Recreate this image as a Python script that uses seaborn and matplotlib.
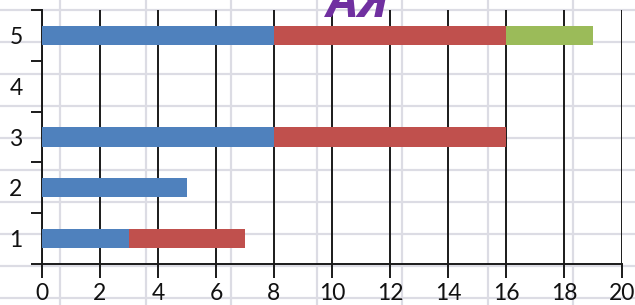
import matplotlib
matplotlib.use("Agg")
import matplotlib.pyplot as plt
import seaborn as sns
import pandas as pd
import numpy as np

# ---- data ----
categories = ["1", "2", "3", "4", "5"]
blue_vals = [3, 5, 8, 0, 8]
red_vals = [4, 0, 8, 0, 8]
green_vals = [0, 0, 0, 0, 3]
x_ticks = list(range(0, 21, 2))
title_text = "АЯ"

# ---- style ----
sns.set_theme(style="white")
plt.rcParams['font.family'] = ['Lato', 'DejaVu Sans']

BLUE = "#4F81BD"
RED = "#C0504D"
GREEN = "#9BBB59"

fig = plt.figure(figsize=(6.35, 3.05), dpi=100)

# background "graph paper"
bg = fig.add_axes([0, 0, 1, 1], zorder=0)
bg.set_xlim(0, 635)
bg.set_ylim(305, 0)
bg.set_xticks(np.arange(60, 640, 85.5))
bg.set_yticks(np.arange(10, 305, 32))
bg.grid(True, color="#dcdce4", lw=1.6)
bg.tick_params(length=0, labelbottom=False, labelleft=False)
for s in bg.spines.values():
    s.set_visible(False)
bg.set_facecolor("white")

ax = fig.add_axes([42 / 635, 41 / 305, 580 / 635, 254 / 305], zorder=1)
ax.set_facecolor("none")

df = pd.DataFrame({"cat": categories, "blue": blue_vals, "red": red_vals, "green": green_vals})
df["s1"] = df["blue"]
df["s2"] = df["blue"] + df["red"]
df["s3"] = df["s2"] + df["green"]
order = ["5", "4", "3", "2", "1"]

for col, c in [("s3", GREEN), ("s2", RED), ("s1", BLUE)]:
    sns.barplot(data=df, y="cat", x=col, order=order, color=c, width=0.38,
                saturation=1, linewidth=0, orient="h", ax=ax, zorder=3)

ax.set_xlabel("")
ax.set_ylabel("")
ax.set_xlim(0, 20)
ax.set_ylim(4.5, -0.5)

ax.set_xticks(x_ticks)
ax.set_xticklabels([str(t) for t in x_ticks])
ax.set_yticks(np.arange(-0.5, 5, 1))
ax.set_yticklabels([])
ax.set_yticks(np.arange(0, 5), minor=True)
ax.set_yticklabels(order, minor=True)

ax.tick_params(axis="x", which="major", bottom=True, length=10, width=1.4,
               color="#1a1a1a", labelsize=16.5, pad=4, labelcolor="#111")
ax.tick_params(axis="y", which="major", left=True, length=8, width=1.4,
               color="#1a1a1a")
ax.tick_params(axis="y", which="minor", left=True, length=0, pad=14,
               labelsize=16.5, labelcolor="#111")

ax.xaxis.grid(True, color="#1a1a1a", lw=1.4)
ax.yaxis.grid(False)
ax.set_axisbelow(True)

for s in ["top", "right"]:
    ax.spines[s].set_visible(False)
for s in ["left", "bottom"]:
    ax.spines[s].set_color("#1a1a1a")
    ax.spines[s].set_linewidth(1.4)

fig.text(358 / 635, (305 - 17) / 305, title_text, ha="center", va="baseline",
         fontsize=36, fontweight="bold", style="italic", color="#7030A0",
         family=["Open Sans", "DejaVu Sans"], zorder=5)

fig.savefig("out.png", dpi=100)
